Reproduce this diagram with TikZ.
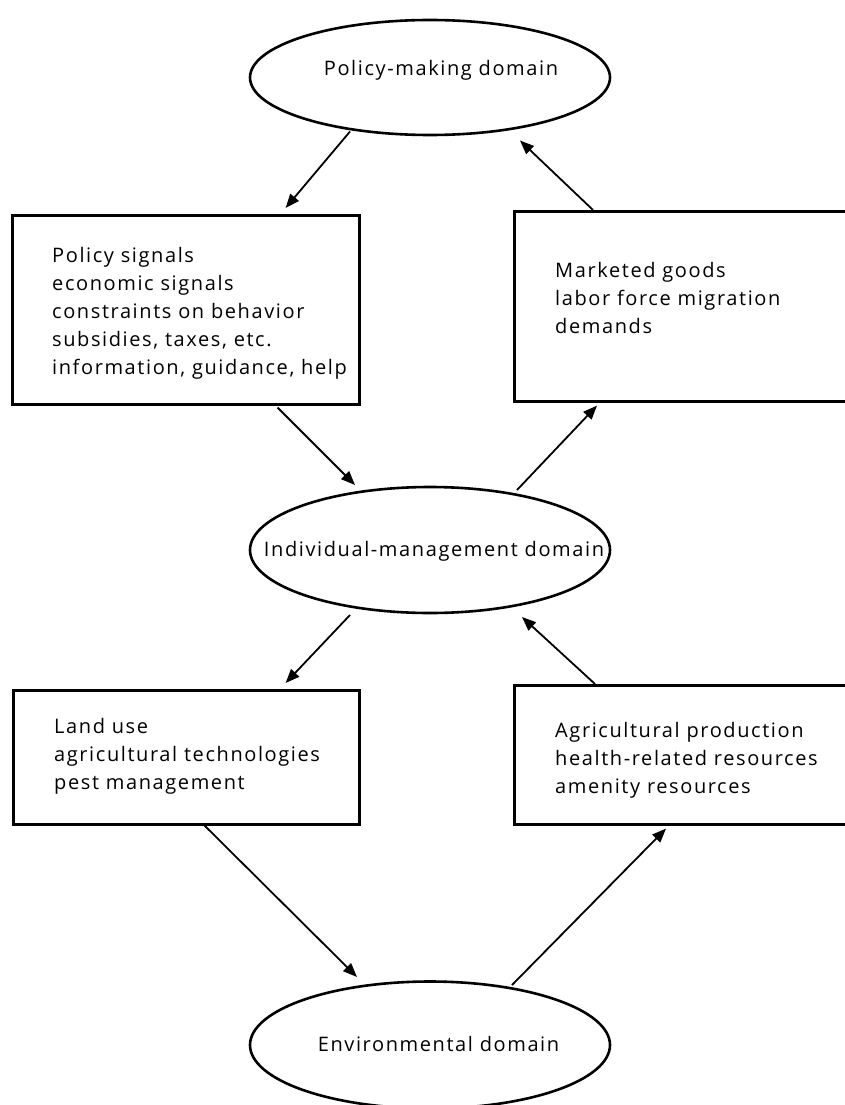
\documentclass[tikz,border=0pt]{standalone}
\usepackage{fontspec}
\setmainfont{Open Sans}[LetterSpace=8.0]
\usetikzlibrary{arrows.meta,shapes.geometric,calc}

% text of a domain: zero-size box, shifted right by half of #1, raised by #2
\newcommand{\domlabel}[3]{\raisebox{#2}[0pt][0pt]{\makebox[0pt]{\hspace*{#1}#3}}}

\tikzset{
  realm/.style={ellipse, draw, line width=2.6pt, minimum width=360pt,
    inner sep=0pt, font=\fontsize{20}{24}\selectfont},
  panel/.style={rectangle, draw, line width=2.6pt, anchor=north west, inner sep=0pt},
  itemlist/.style={anchor=north west, inner sep=0pt, align=left,
    font=\fontsize{20}{28}\selectfont},
  flow/.style={line width=1.8pt, -{Triangle[length=14pt,width=11pt]}},
}

\begin{document}
\begin{tikzpicture}[x=1pt,y=-1pt]
\useasboundingbox (0,0) rectangle (845,1105);
\clip (0,0) rectangle (845,1105);

% the three domains
\node[realm, minimum height=115pt] (pol) at (430,77.5)
  {\domlabel{22pt}{1.5pt}{Policy-making domain}};
\node[realm, minimum height=126pt] (ind) at (430,550)
  {\domlabel{8pt}{-6.7pt}{Individual-management domain}};
\node[realm, minimum height=127pt] (env) at (430,1045)
  {\domlabel{17pt}{-6.7pt}{Environmental domain}};

% the four flow panels
\node[panel, minimum width=347pt, minimum height=189pt] (sig) at (11,214) {};
\node[panel, minimum width=347pt, minimum height=190pt] (mkt) at (513,210) {};
\node[panel, minimum width=346pt, minimum height=134pt] (lnd) at (12,689) {};
\node[panel, minimum width=347pt, minimum height=139pt] (agr) at (513,684) {};

\node[itemlist] (sigtxt) at (52,247)
  {Policy signals\\economic signals\\constraints on behavior\\subsidies, taxes, etc.\\information, guidance, help};
\node[itemlist] (mkttxt) at (555,262)
  {Marketed goods\\labor force migration\\demands};
\node[itemlist] (lndtxt) at (54,718)
  {Land use\\agricultural technologies\\pest management};
\node[itemlist] (agrtxt) at (555,722)
  {Agricultural production\\health-related resources\\amenity resources};

% flows between domains and panels
\draw[flow] ($(pol)+(-80,54)$) -- ($(sig.north east)+(-75,-6)$);
\draw[flow] ($(mkt.north west)+(80,0)$) -- ($(pol)+(90,63)$);
\draw[flow] ($(sig.south east)+(-83,2)$) -- ($(ind)+(-75,-65)$);
\draw[flow] ($(ind)+(87,-60)$) -- ($(mkt.south west)+(84,3)$);
\draw[flow] ($(ind)+(-80,65)$) -- ($(lnd.north east)+(-75,-6)$);
\draw[flow] ($(agr.north west)+(82,0)$) -- ($(ind)+(92,67)$);
\draw[flow] ($(lnd.south east)+(-156,0)$) -- ($(env)+(-73,-68)$);
\draw[flow] ($(env)+(82,-60)$) -- ($(agr.south west)+(153,3)$);
\end{tikzpicture}
\end{document}
